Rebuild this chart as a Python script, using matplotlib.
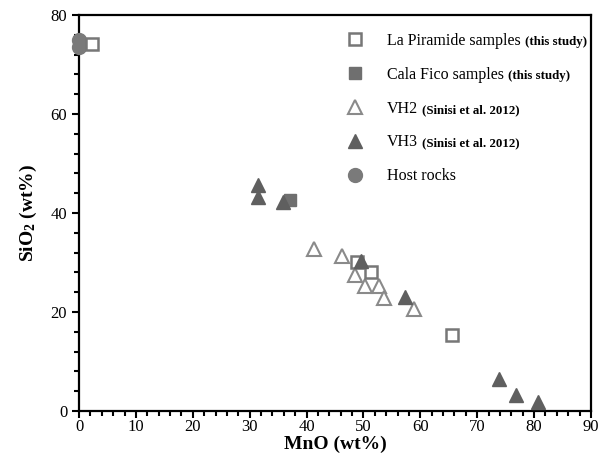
import matplotlib
matplotlib.use("Agg")
import matplotlib.pyplot as plt
from matplotlib.ticker import MultipleLocator

plt.rcParams['font.family'] = ['Liberation Serif', 'DejaVu Serif']
plt.rcParams['mathtext.fontset'] = 'custom'
plt.rcParams['mathtext.rm'] = 'Liberation Serif'
plt.rcParams['mathtext.bf'] = 'Liberation Serif:bold'

# MnO / SiO2 (wt%) for each sample group
piramide_mno = [2.3, 48.9, 51.4, 65.6]
piramide_sio2 = [74.2, 30.1, 28.1, 15.4]

calafico_mno = [37.1]
calafico_sio2 = [42.7]

vh2_mno = [41.3, 46.2, 48.5, 50.3, 52.8, 53.7, 58.9]
vh2_sio2 = [32.7, 31.3, 27.5, 25.3, 25.3, 22.8, 20.7]

vh3_mno = [31.5, 31.5, 35.8, 49.5, 57.3, 73.8, 76.8, 80.7]
vh3_sio2 = [45.6, 43.3, 42.3, 30.2, 23.0, 6.5, 3.2, 1.9]

host_mno = [0.0, 0.0]
host_sio2 = [75.0, 73.5]

labels = ["La Piramide samples", "Cala Fico samples", "VH2", "VH3", "Host rocks"]
notes = ["(this study)", "(this study)", "(Sinisi et al. 2012)", "(Sinisi et al. 2012)", ""]

grey = '#6f6f6f'

fig = plt.figure(figsize=(6.08, 4.66), dpi=100)
ax = fig.add_axes([0.130, 0.118, 0.842, 0.850])

ax.plot(host_mno, host_sio2, 'o', ms=10, color='#7a7a7a', mec='#7a7a7a',
        clip_on=False, zorder=3, label=labels[4])
ax.plot(piramide_mno, piramide_sio2, 's', ms=9, mfc='white', mec='#777777',
        mew=1.8, zorder=4, label=labels[0])
ax.plot(calafico_mno, calafico_sio2, 's', ms=9, color=grey, zorder=3,
        label=labels[1])
ax.plot(vh2_mno, vh2_sio2, '^', ms=10, mfc='white', mec='#8a8a8a',
        mew=1.5, zorder=3, label=labels[2])
ax.plot(vh3_mno, vh3_sio2, '^', ms=10, color='#5f5f5f', zorder=4,
        label=labels[3])

ax.set_xlim(0, 90)
ax.set_ylim(0, 80)
ax.xaxis.set_major_locator(MultipleLocator(10))
ax.xaxis.set_minor_locator(MultipleLocator(2))
ax.yaxis.set_major_locator(MultipleLocator(20))
ax.yaxis.set_minor_locator(MultipleLocator(4))
ax.tick_params(which='major', length=5, width=1.5, labelsize=12, direction='out')
ax.tick_params(which='minor', length=3.5, width=1.5, direction='out')
ax.tick_params(axis='x', pad=0.5)
for sp in ax.spines.values():
    sp.set_linewidth(1.6)

ax.set_xlabel('MnO (wt%)', fontsize=14, fontweight='bold', labelpad=1)
ax.set_ylabel(r'$\mathbf{SiO_2}$ (wt%)', fontsize=14, fontweight='bold', labelpad=8)

handles, hl = ax.get_legend_handles_labels()
order = [hl.index(l) for l in labels]
leg = ax.legend([handles[i] for i in order], labels, loc='upper left',
                frameon=False, fontsize=11.5, handletextpad=1.0,
                labelspacing=1.12, borderaxespad=0, borderpad=0,
                bbox_to_anchor=(0.508, 0.955), numpoints=1)
fig.canvas.draw()
for txt, note in zip(leg.get_texts(), notes):
    if note:
        ax.annotate(note, xy=(1, 0), xycoords=txt, xytext=(3, 0.5),
                    textcoords='offset points', fontsize=9.3, fontweight='bold',
                    va='bottom', ha='left')

fig.savefig('out.png', dpi=100)
